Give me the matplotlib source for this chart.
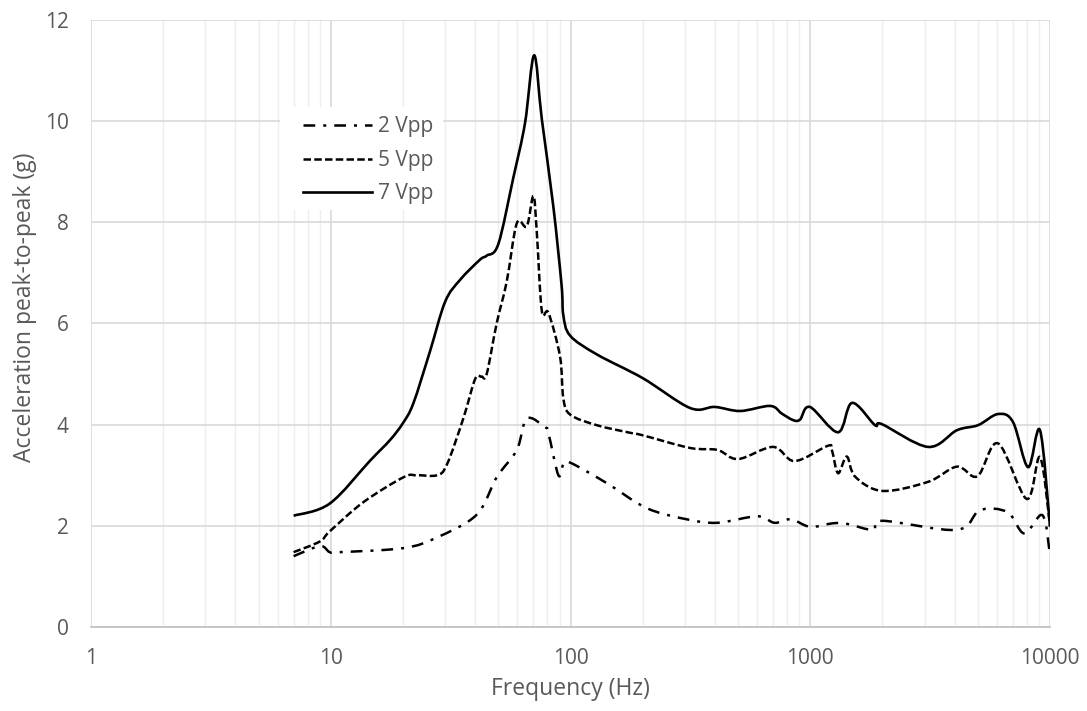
import matplotlib
matplotlib.use("Agg")
import numpy as np
import matplotlib.pyplot as plt
from matplotlib.path import Path
from matplotlib.patches import PathPatch, Rectangle
from matplotlib.lines import Line2D
from matplotlib.ticker import FixedLocator, LogLocator, NullFormatter, FixedFormatter

# ---- data ----
f_7 = [7, 9.9, 14.6, 17.7, 20, 22.1, 25.9, 30, 34.6, 41.9, 44.7, 50, 57.8, 64.6, 70.5, 75.9, 84.8, 91.8,
       93.3, 99.6, 128.6, 200, 315, 400, 510, 680, 760, 848, 906, 997, 1306, 1493, 1862, 1990,
       3100, 4090, 5010, 6070, 7010, 8100, 9080, 10000]
v_7 = [2.2, 2.44, 3.29, 3.70, 4.03, 4.42, 5.44, 6.43, 6.86, 7.26, 7.34, 7.57, 8.89, 9.96, 11.3, 10.04, 8.31, 6.75,
       6.17, 5.76, 5.39, 4.92, 4.33, 4.35, 4.27, 4.37, 4.22, 4.09, 4.1, 4.35, 3.85, 4.43, 3.99, 4.01,
       3.56, 3.89, 3.99, 4.21, 4.05, 3.16, 3.89, 1.98]

f_5 = [7, 9.0, 9.9, 13.7, 20.1, 22.8, 27.7, 30.5, 35.7, 40, 42.5, 44.7, 49.2, 54.2, 59.7, 65.7, 70, 72.3, 75.9,
       80.9, 90.4, 93.3, 99.6, 128.6, 177, 200, 315, 410, 500, 700, 860, 1180, 1230, 1306, 1420, 1540, 2000,
       3100, 4090, 4980, 6070, 8000, 9080, 10000]
v_5 = [1.48, 1.69, 1.89, 2.47, 2.96, 3.0, 3.0, 3.21, 4.12, 4.9, 4.95, 5.0, 6.0, 6.83, 7.98, 7.92, 8.52, 7.82, 6.25,
       6.21, 5.35, 4.53, 4.2, 3.99, 3.84, 3.79, 3.54, 3.5, 3.32, 3.56, 3.28, 3.58, 3.5, 3.04, 3.37, 2.97, 2.69,
       2.87, 3.17, 2.98, 3.63, 2.53, 3.36, 2.0]

f_2 = [7, 9.0, 9.9, 10.9, 20.1, 27.7, 40.6, 49.2, 59.7, 65.7, 78.3, 80.9, 89, 93.3, 99.6, 141, 208, 305,
       410, 600, 710, 830, 1000, 1240, 1420, 1830, 2000, 4090, 5100, 6650, 7800, 9300, 10000]
v_2 = [1.4, 1.6, 1.48, 1.48, 1.56, 1.77, 2.22, 2.96, 3.5, 4.12, 3.95, 3.83, 3.0, 3.21, 3.25, 2.85, 2.35, 2.13,
       2.06, 2.19, 2.06, 2.13, 1.98, 2.05, 2.04, 1.92, 2.1, 1.92, 2.31, 2.27, 1.85, 2.21, 1.42]

series_labels = ["2 Vpp", "5 Vpp", "7 Vpp"]
x_ticks = [1, 10, 100, 1000, 10000]
x_ticklabels = ["1", "10", "100", "1000", "10000"]
y_ticks = [0, 2, 4, 6, 8, 10, 12]

FONT = "Open Sans"
GRAY = "#595959"

STYLE_2 = dict(color="black", lw=1.8, linestyle=(0, (4.7, 3.2, 1.2, 3.2)))
STYLE_5 = dict(color="black", lw=1.8, linestyle=(0, (3.0, 1.3)))
STYLE_7 = dict(color="black", lw=1.9, linestyle="-")


def smooth_path(fx, vy):
    """Excel-style smoothed line: cubic Bezier through the data points
    (control points computed in log-x space, rendered by the axes' transform)."""
    lx = np.log10(np.asarray(fx, float))
    y = np.asarray(vy, float)
    P = np.column_stack([lx, y])
    n = len(P)
    Pp = np.vstack([P[0], P, P[-1]])
    verts = [P[0]]
    codes = [Path.MOVETO]
    for i in range(n - 1):
        p0, p1, p2, p3 = Pp[i], Pp[i + 1], Pp[i + 2], Pp[i + 3]
        c1 = p1 + (p2 - p0) / 6.0
        c2 = p2 - (p3 - p1) / 6.0
        verts += [c1, c2, p2]
        codes += [Path.CURVE4] * 3
    V = np.array(verts)
    V[:, 0] = 10 ** V[:, 0]
    return Path(V, codes)


fig = plt.figure(figsize=(10.87, 7.11), dpi=100)
ax = fig.add_axes([0.0837, 0.1181, 0.966 - 0.0837, 0.972 - 0.1181])

ax.set_xscale("log")
ax.set_xlim(1, 10000)
ax.set_ylim(0, 12)

for fx, vy, st in [(f_2, v_2, STYLE_2), (f_5, v_5, STYLE_5), (f_7, v_7, STYLE_7)]:
    patch = PathPatch(smooth_path(fx, vy), fill=False, edgecolor=st["color"], lw=st["lw"],
                      linestyle=st["linestyle"], capstyle="butt", joinstyle="round", zorder=3)
    ax.add_patch(patch)

ax.xaxis.set_major_locator(FixedLocator(x_ticks))
ax.xaxis.set_major_formatter(FixedFormatter(x_ticklabels))
ax.xaxis.set_minor_locator(LogLocator(base=10, subs=range(2, 10), numticks=20))
ax.xaxis.set_minor_formatter(NullFormatter())
ax.set_yticks(y_ticks)

ax.grid(which="major", axis="both", color="#d9d9d9", lw=1.2)
ax.grid(which="minor", axis="x", color="#eeeeee", lw=1.0)
ax.set_axisbelow(True)

for s in ["top", "right", "left"]:
    ax.spines[s].set_visible(False)
ax.spines["bottom"].set_color("#bfbfbf")
ax.spines["bottom"].set_linewidth(1.2)

ax.tick_params(axis="both", which="both", length=0, labelsize=15, labelcolor=GRAY)
ax.tick_params(axis="x", pad=15)
ax.tick_params(axis="y", pad=16)
for lab in ax.get_xticklabels() + ax.get_yticklabels():
    lab.set_fontfamily(FONT)

ax.set_xlabel("Frequency (Hz)", fontsize=16.5, color=GRAY, family=FONT, labelpad=6)
ax.set_ylabel("Acceleration peak-to-peak (g)", fontsize=16.5, color=GRAY, family=FONT)
ax.yaxis.set_label_coords(-0.056, 0.527)

# white legend background (covers gridlines only)
ax.add_patch(Rectangle((0.197, 0.687), 0.17, 0.17, transform=ax.transAxes,
                       facecolor="white", edgecolor="none", zorder=2))

handles = [Line2D([], [], **STYLE_2), Line2D([], [], **STYLE_5), Line2D([], [], **STYLE_7)]
leg = ax.legend(handles, series_labels, loc="upper left", bbox_to_anchor=(0.221, 0.841),
                frameon=False, borderpad=0, borderaxespad=0, handlelength=3.3, handletextpad=0.3,
                labelspacing=0.6, prop={"family": FONT, "size": 15})
for t in leg.get_texts():
    t.set_color(GRAY)

fig.savefig("out.png", dpi=100)
